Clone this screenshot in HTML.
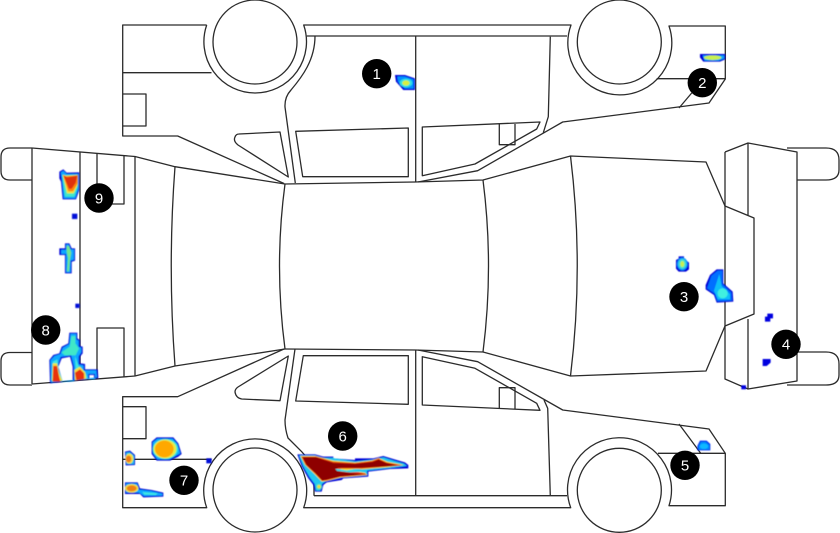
<!DOCTYPE html>
<html><head><meta charset="utf-8"><style>
html,body{margin:0;padding:0;background:#fff;width:840px;height:533px;overflow:hidden}
svg{display:block}
.l{fill:none;stroke:#2b2b2b;stroke-width:1.3;stroke-linejoin:round}
.n circle{fill:#000}
.n text{fill:#fff;font:15px "Liberation Sans",sans-serif;text-anchor:middle}
</style></head><body>
<svg width="840" height="533" viewBox="0 0 840 533" xmlns="http://www.w3.org/2000/svg">
<defs><filter id="b" x="-5%" y="-5%" width="110%" height="110%"><feGaussianBlur stdDeviation="0.55"/></filter></defs>
<g class="l">
<!-- left bumper / tabs -->
<path d="M32 148H10Q1 148 1 157V171Q1 180 10 180H32"/>
<path d="M32 352.5H10Q1 352.5 1 361V376Q1 385 10 385H32"/>
<path d="M32 148V384"/>
<path d="M32 148L135 156.5L175 166.7L285 184"/>
<path d="M32 384L135 376L175 366L285 349"/>
<path d="M80 152V380M135 156.5V376"/>
<path d="M97 153V190M97 204H124V155"/>
<path d="M97 379V328H124V377"/>
<path d="M175 166.7Q167.5 266 175 366"/>
<path d="M285 184Q274 266 285 349"/>
<!-- roof and hood -->
<path d="M285 184L415 182L483 180L570.5 156L706 162L725 206L754 218V314L725 326L706 371L570.5 376L483 352L415 350L285 349"/>
<path d="M483 180Q494 266 483 352"/>
<path d="M570.5 156Q584 266 570.5 376"/>
<!-- right bumper -->
<path d="M725 152L748 143L797 152V381L748 389L725 379V152"/>
<path d="M748 143V215M748 319V389"/>
<path d="M787 148H826Q839 148 839 160V170Q839 180 826 180H797"/>
<path d="M797 352H826Q839 352 839 364V375Q839 385 826 385H787"/>
<!-- top side view -->
<path d="M206.7 25H122.7V136H177.7L284 183.5"/>
<path d="M122.7 72.7H211.5"/>
<path d="M122.7 94H146V126H122.7"/>
<circle cx="255" cy="42" r="42"/>
<path d="M206.7 25A51.3 51.3 0 1 0 303.7 25H571A52 52 0 1 0 669 26H725.3V79L709 103L562.7 122L477.7 170.7L418 182"/>
<path d="M306.7 36H567"/>
<circle cx="619.3" cy="42" r="42"/>
<path d="M656.7 78.7H725.3M691.7 93L679 108"/>
<path d="M315 36C315 60 302 77 291 90Q284.5 97 285 107L295.3 183"/>
<path d="M239 134L280 132L288.3 177L238 145Q233 141 235 137Q236 134 239 134Z"/>
<path d="M295.7 131.3L408.3 128V176.7H302.7Z"/>
<path d="M415.7 36V182"/>
<path d="M422.3 127L540 122L536.7 129L475 164L422.3 175.7Z"/>
<path d="M499.3 124V144.7H515V124"/>
<path d="M550.3 36.7L548.3 116.7L543.3 132.7"/>
<!-- bottom side view -->
<path d="M211.5 459.3H122.7"/>
<path d="M284 349L177.7 396.7H122.7V507.7H206.7A51.5 51.5 0 1 1 303.7 507.7H570.7A52 52 0 1 1 669 505.7H725.3V453.3L709 429L562.7 410L477.7 361.7L418 350"/>
<path d="M122.7 406.7H146V438.7H122.7"/>
<circle cx="255" cy="490" r="42"/>
<circle cx="619.3" cy="490.3" r="42"/>
<path d="M314 495.7H567"/>
<path d="M295 349L285 420Q285 429 288 438L301.7 451.7Q312 463 314 473V495.7"/>
<path d="M288.3 356L280 400.7L241.7 399Q236 398 235 392Q235 389 238 387Z"/>
<path d="M303.3 355.7H408.3V404.3L295.7 401Z"/>
<path d="M415.7 350V495.7"/>
<path d="M422.3 356.7L475 368.3L536.7 403.3L540 410.3L422.3 405Z"/>
<path d="M499.3 408V387.7H515V409"/>
<path d="M544 400L547.7 408.3L550.3 495.7"/>
<path d="M658 453.3H725.3M679 424L700.7 453.3"/>
</g>

<g filter="url(#b)">
<!-- blob 1 -->
<g transform="translate(110 0) scale(.3333)">
<path fill="#0000d8" d="M855 225H885L915 235V270H880L858 245Z"/>
<path fill="#0090ff" d="M862 229H884L911 238V266H884L864 245Z"/>
<ellipse cx="888" cy="249" rx="19" ry="13" fill="#30e0e0"/>
<ellipse cx="888" cy="249" rx="11" ry="8" fill="#d8f040"/>
</g>
<!-- blob 2 -->
<g transform="translate(410 0) scale(.3333)">
<path fill="#0000d8" d="M870 162H946V178L930 185H880L870 172Z"/>
<path fill="#10a8f8" d="M878 166H942V176L926 182H884Z"/>
<ellipse cx="908" cy="173" rx="26" ry="7" fill="#c8f050"/>
</g>
<!-- blobs 3,4 -->
<g transform="translate(560 140) scale(.3333)">
<path fill="#0000d8" d="M356 349H372V356L387 368V388L378 395H356L348 386V360L356 356Z"/>
<ellipse cx="367" cy="372" rx="16" ry="19" fill="#1098ff"/>
<ellipse cx="367" cy="372" rx="12" ry="15" fill="#40e0d0"/>
<ellipse cx="367" cy="372" rx="6" ry="9" fill="#c8f050"/>
<path fill="#0000d8" d="M470 388H490V430L518 455L520 485L470 488L462 465L437 448V435L450 405Z"/>
<path fill="#0070ff" d="M473 392H487V432L514 457L516 482L472 484L465 462L441 445L454 407Z"/>
<path fill="#10c0f8" d="M478 402L485 438L510 462V478H474L462 452Z"/>
<ellipse cx="488" cy="460" rx="15" ry="15" fill="#40f0e0"/>
<path fill="#0000e0" d="M622 521H639V535H631V545H615V530H622Z"/>
<path fill="#0000e0" d="M608 657H632V668L620 678H608Z"/>
<path fill="#0000e0" d="M544 736H558V748H544Z"/>
</g>
<!-- blob 5 -->
<g transform="translate(410 340) scale(.3333)">
<path fill="#0030f0" d="M862 318L870 302H890L901 312V331H862Z"/>
<path fill="#0090ff" d="M866 318L873 306H888L898 315V328H866Z"/>
<ellipse cx="882" cy="319" rx="12" ry="8" fill="#10b8ff"/>
</g>
<!-- blob 6 -->
<g transform="translate(290 445) scale(.3333)">
<path fill="#0000d8" d="M22 28H75L100 35H130V40L195 45V40H250L280 33L320 45L345 52L355 60V70L300 72L235 80V95L160 100L155 105L110 112L100 120L95 140H75L70 120L55 100L35 65Z"/>
<path fill="#20c8f0" d="M27 31H74L100 39H128L195 49L250 44L280 37L318 49L342 56L351 63L300 69L231 77V91L158 97L108 108L96 117L91 137H78L74 117L59 97L39 63Z"/>
<path fill="#f8e030" d="M31 33H76L130 47L195 52L246 46L266 39L292 50L342 60L290 67L215 73H150L225 83L232 90L150 98L110 108L95 110L72 86L45 60Z"/>
<path fill="#e03010" d="M34 35H78L130 50L195 54L246 48L266 41L290 52L338 61L290 65L215 71H148L225 85L230 89L150 96L110 106L96 108L74 85L47 60Z"/>
<path fill="#8e0505" d="M38 37H78L130 54L195 57L248 51L266 44L288 54L322 61L285 64L215 68H145L136 73L150 80L220 88L150 94L110 104L97 106L76 84L50 60Z"/>
<path fill="#30d8e8" d="M136 72H215L190 76L225 80L180 82L142 78Z"/>
<path fill="#f8e030" d="M146 72H195L170 76Z"/>
<ellipse cx="87" cy="125" rx="9" ry="9" fill="#50e0c0"/>
<ellipse cx="87" cy="125" rx="5" ry="5" fill="#f0e030"/>
</g>
<!-- blob 7 -->
<g transform="translate(115 430) scale(.3333)">
<path fill="#0000d8" d="M110 35L125 22H175L190 40L200 72L190 80L165 92H125L110 72Z"/>
<path fill="#10a8ff" d="M113 37L127 26H173L187 42L196 70L163 88H127L114 70Z"/>
<ellipse cx="151" cy="57" rx="38" ry="30" fill="#40e8d0"/>
<ellipse cx="150" cy="57" rx="34" ry="28" fill="#e8ec40"/>
<ellipse cx="148" cy="57" rx="28" ry="25" fill="#ffa800"/>
<path fill="#0000d8" d="M30 65L45 62L60 75V105L32 106Z"/>
<path fill="#20c0f0" d="M33 68L44 66L57 77V102L34 102Z"/>
<ellipse cx="43" cy="86" rx="12" ry="15" fill="#f0e040"/>
<ellipse cx="41" cy="87" rx="8" ry="10" fill="#f07818"/>
<path fill="#0000d8" d="M30 157H68L75 175L110 180L145 188V200L85 202L75 192H30Z"/>
<path fill="#10a8ff" d="M33 160H66L72 179L108 183L142 191V197L87 198L72 188H33Z"/>
<path fill="#40e8e0" d="M82 186L128 190L122 195L88 194Z"/>
<ellipse cx="50" cy="175" rx="20" ry="13" fill="#f0e040"/>
<ellipse cx="50" cy="175" rx="15" ry="9" fill="#f08018"/>
<rect x="274" y="85" width="16" height="15" fill="#0010d8"/>
</g>
<!-- blobs 8,9 -->
<g transform="translate(0 140) scale(.3333)">
<path fill="#0000d8" fill-rule="evenodd" d="M208 578H232V595L240 600V618L248 620V640L240 650V670L255 672V688H293L295 715L150 730L148 660L160 645L178 640L185 620L205 610ZM185 655L210 650L218 680V724L188 726L175 680ZM268 705H282V716H268Z"/>
<path fill="#10a8ff" fill-rule="evenodd" d="M211 581H229V598L236 602V620L244 623V637L236 649V673L251 676V691H289L291 712L153 728L151 661L163 648L181 642L188 623L208 612ZM182 651L213 646L222 680V724L185 726L172 680ZM265 702H285V718H265Z"/>
<path fill="#40e8c8" d="M214 588H226V610L237 625L227 646H194L184 637L209 620Z"/>
<path fill="#40e8e0" d="M158 665L172 658L176 690L188 723H154Z"/>
<path fill="#40e8e0" d="M225 648L236 678L254 694L264 716L227 721V690Z"/>
<path fill="#f4e040" d="M158 670L171 670L177 700L187 723H156Z"/>
<path fill="#f4e040" d="M223 690L240 680L256 698L258 716L225 721Z"/>
<path fill="#e83010" d="M160 678L171 678L177 710L181 725H158Z"/>
<path fill="#e83010" d="M225 698L240 688L252 700L252 717L229 721Z"/>
<path fill="#0000d8" d="M178 95L190 88L200 98L238 97V150L228 178H188L183 125L178 115Z"/>
<path fill="#10a8ff" d="M182 97L190 92L200 102L235 101V148L226 175H191L186 122Z"/>
<path fill="#40e8c8" d="M186 104L196 105L233 104V142L223 170H195Z"/>
<path fill="#f4e040" d="M188 104L198 107L233 105V134L221 160H201Z"/>
<path fill="#ff8810" d="M189 105L198 109L233 106V130L219 154H205Z"/>
<path fill="#e03010" d="M191 107L202 112L232 107L227 128L215 146H207Z"/>
<rect x="216" y="221" width="16" height="16" fill="#0010d8"/>
<path fill="#0000d8" d="M195 310H208L215 325H225V362L215 365V400H195V345H178V325H195Z"/>
<path fill="#10a8ff" d="M198 313H206L212 328H222V359L212 362V397H198V342H183V329H198Z"/>
<path fill="#70e890" d="M200 318H207L214 338L210 360L207 394H201L204 355L200 335Z"/>
<rect x="226" y="491" width="13" height="13" fill="#0010d8"/>
</g>
</g>

<g class="n">
<circle cx="376.7" cy="73.7" r="14.7"/><text x="376.7" y="79">1</text>
<circle cx="702.3" cy="82.7" r="14.7"/><text x="702.3" y="88">2</text>
<circle cx="684" cy="296.7" r="14.7"/><text x="684" y="302">3</text>
<circle cx="786" cy="344.3" r="14.7"/><text x="786" y="349.6">4</text>
<circle cx="685" cy="465.3" r="14.7"/><text x="685" y="470.6">5</text>
<circle cx="342.7" cy="436" r="14.7"/><text x="342.7" y="441.3">6</text>
<circle cx="184" cy="480.3" r="14.7"/><text x="184" y="485.6">7</text>
<circle cx="45.7" cy="330" r="14.7"/><text x="45.7" y="335.3">8</text>
<circle cx="99" cy="198" r="14.7"/><text x="99" y="203.3">9</text>
</g>
</svg>
</body></html>
